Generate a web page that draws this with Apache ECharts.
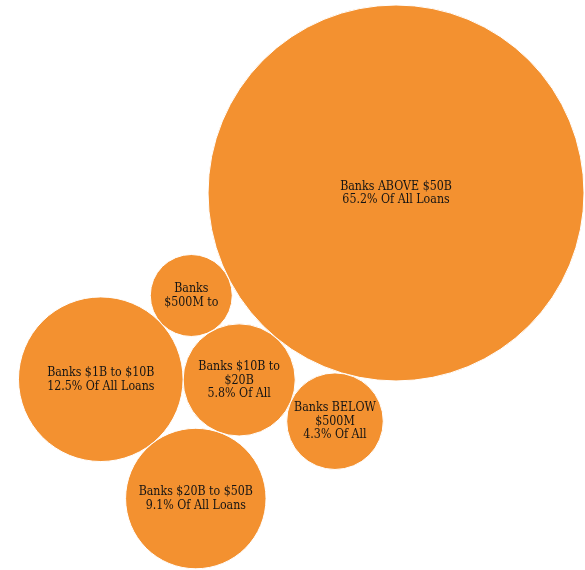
<!DOCTYPE html>
<html>
<head>
<meta charset="utf-8">
<style>
  html, body { margin: 0; padding: 0; background: #fff; }
  #chart { width: 585px; height: 570px; }
</style>
<script src="https://cdn.jsdelivr.net/npm/echarts@6/dist/echarts.min.js"></script>
</head>
<body>
<div id="chart"></div>
<script>
// Share of all loans held by each bank size group
const categories = [
  'Banks ABOVE $50B',
  'Banks $10B to $20B',
  'Banks BELOW $500M',
  'Banks $500M to $1B',
  'Banks $1B to $10B',
  'Banks $20B to $50B'
];
const loanShares = [65.2, 5.8, 4.3, 3.1, 12.5, 9.1];
const valueSuffix = '% Of All Loans';

// Packing order: the second bubble sits against the first at a given angle,
// every later bubble touches two already placed ones: [bubble, nbA, nbB, side]
const FIRST_ANGLE = 130 * Math.PI / 180;
const packSteps = [
  [2, 0, 1, -1],
  [3, 0, 1, 1],
  [4, 3, 1, 1],
  [5, 4, 1, 1]
];

const PX_PER_UNIT = 23.28;
const FONT_SIZE = 12.3;
const FONT_FAMILY = "'DejaVu Serif Condensed', 'DejaVu Serif', serif";
const LINE_HEIGHT = 13.5;

// bubble area proportional to the share
const radii = loanShares.map(v => Math.sqrt(v));

function touching(p, rp, q, rq, r, side) {
  const dx = q[0] - p[0], dy = q[1] - p[1];
  const d = Math.hypot(dx, dy);
  const d1 = rp + r, d2 = rq + r;
  const a = (d1 * d1 - d2 * d2 + d * d) / (2 * d);
  const h = Math.sqrt(Math.max(0, d1 * d1 - a * a));
  const ux = dx / d, uy = dy / d;
  return [p[0] + a * ux - side * h * uy, p[1] + a * uy + side * h * ux];
}

const centers = [];
centers[0] = [0, 0];
centers[1] = [
  (radii[0] + radii[1]) * Math.cos(FIRST_ANGLE),
  (radii[0] + radii[1]) * Math.sin(FIRST_ANGLE)
];
packSteps.forEach(([i, a, b, side]) => {
  centers[i] = touching(centers[a], radii[a], centers[b], radii[b], radii[i], side);
});

let minX = Infinity, maxX = -Infinity, minY = Infinity, maxY = -Infinity;
centers.forEach((c, i) => {
  minX = Math.min(minX, c[0] - radii[i]);
  maxX = Math.max(maxX, c[0] + radii[i]);
  minY = Math.min(minY, c[1] - radii[i]);
  maxY = Math.max(maxY, c[1] + radii[i]);
});

const bubbles = centers.map((c, i) => [c[0], c[1], radii[i], i]);

// word-wrap a label to the room inside a bubble, dropping lines that do not fit
const measureCtx = document.createElement('canvas').getContext('2d');
function wrapLabel(text, maxW, maxH) {
  measureCtx.font = FONT_SIZE + 'px ' + FONT_FAMILY;
  const lines = [];
  text.split('\n').forEach(par => {
    let cur = '';
    par.split(' ').forEach(w => {
      const t = cur ? cur + ' ' + w : w;
      if (cur && measureCtx.measureText(t).width > maxW) {
        lines.push(cur);
        cur = w;
      } else {
        cur = t;
      }
    });
    lines.push(cur);
  });
  const n = Math.max(1, Math.floor(maxH / LINE_HEIGHT));
  return lines.slice(0, n).join('\n');
}

const chart = echarts.init(document.getElementById('chart'), null, { renderer: 'canvas' });
const xMin = maxX - 584 / PX_PER_UNIT;
const yMin = minY - 5 / PX_PER_UNIT;
chart.setOption({
  animation: false,
  grid: { left: 0, right: 0, top: 0, bottom: 0 },
  xAxis: { type: 'value', show: false, min: xMin, max: xMin + 585 / PX_PER_UNIT },
  yAxis: { type: 'value', show: false, inverse: true, min: yMin, max: yMin + 570 / PX_PER_UNIT },
  series: [{
    type: 'custom',
    silent: true,
    data: bubbles,
    encode: { x: 0, y: 1 },
    renderItem: function (params, api) {
      const c = api.coord([api.value(0), api.value(1)]);
      const rp = api.size([api.value(2), api.value(2)])[0];
      const idx = api.value(3);
      const label = wrapLabel(categories[idx] + '\n' + loanShares[idx] + valueSuffix, 1.9 * rp - 9, 0.9 * rp);
      return {
        type: 'group',
        children: [
          {
            type: 'circle',
            shape: { cx: c[0], cy: c[1], r: rp },
            style: { fill: '#f39130', stroke: '#ffffff', lineWidth: 1 }
          },
          {
            type: 'text',
            style: {
              text: label,
              x: c[0],
              y: c[1] + 0.5,
              align: 'center',
              verticalAlign: 'middle',
              fontSize: FONT_SIZE,
              fontFamily: FONT_FAMILY,
              lineHeight: LINE_HEIGHT,
              fill: '#141414'
            }
          }
        ]
      };
    }
  }]
});
</script>
</body>
</html>
